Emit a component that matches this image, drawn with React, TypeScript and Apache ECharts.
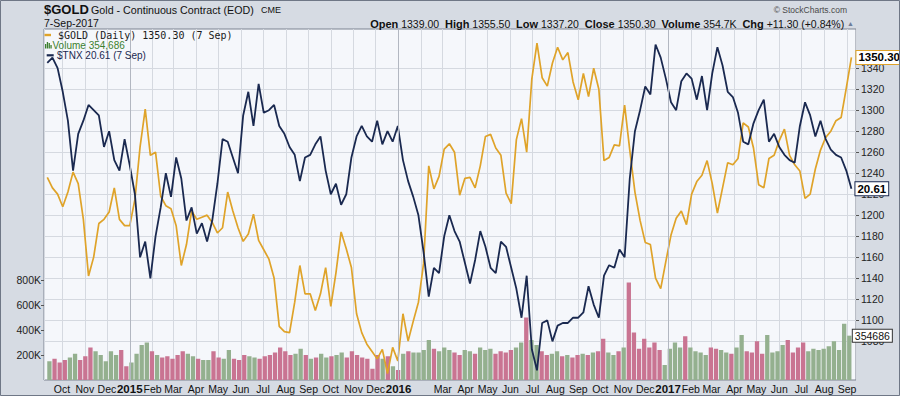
import React, { useEffect, useRef } from 'react';
import * as echarts from 'echarts';

// Weekly samples (Thursdays) of the daily chart
const DATES = [
  '2014-09-11','2014-09-18','2014-09-25','2014-10-02','2014-10-09','2014-10-16','2014-10-23','2014-10-30',
  '2014-11-06','2014-11-13','2014-11-20','2014-11-27','2014-12-04','2014-12-11','2014-12-18','2014-12-25',
  '2015-01-01','2015-01-08','2015-01-15','2015-01-22','2015-01-29','2015-02-05','2015-02-12','2015-02-19','2015-02-26',
  '2015-03-05','2015-03-12','2015-03-19','2015-03-26','2015-04-02','2015-04-09','2015-04-16','2015-04-23','2015-04-30',
  '2015-05-07','2015-05-14','2015-05-21','2015-05-28','2015-06-04','2015-06-11','2015-06-18','2015-06-25',
  '2015-07-02','2015-07-09','2015-07-16','2015-07-23','2015-07-30','2015-08-06','2015-08-13','2015-08-20','2015-08-27',
  '2015-09-03','2015-09-10','2015-09-17','2015-09-24','2015-10-01','2015-10-08','2015-10-15','2015-10-22','2015-10-29',
  '2015-11-05','2015-11-12','2015-11-19','2015-11-26','2015-12-03','2015-12-10','2015-12-17','2015-12-24','2015-12-31',
  '2016-01-07','2016-01-14','2016-01-21','2016-01-28','2016-02-04','2016-02-11','2016-02-18','2016-02-25',
  '2016-03-03','2016-03-10','2016-03-17','2016-03-24','2016-03-31','2016-04-07','2016-04-14','2016-04-21','2016-04-28',
  '2016-05-05','2016-05-12','2016-05-19','2016-05-26','2016-06-02','2016-06-09','2016-06-16','2016-06-23','2016-06-30',
  '2016-07-07','2016-07-14','2016-07-21','2016-07-28','2016-08-04','2016-08-11','2016-08-18','2016-08-25',
  '2016-09-01','2016-09-08','2016-09-15','2016-09-22','2016-09-29','2016-10-06','2016-10-13','2016-10-20','2016-10-27',
  '2016-11-03','2016-11-10','2016-11-17','2016-11-24','2016-12-01','2016-12-08','2016-12-15','2016-12-22','2016-12-29',
  '2017-01-05','2017-01-12','2017-01-19','2017-01-26','2017-02-02','2017-02-09','2017-02-16','2017-02-23',
  '2017-03-02','2017-03-09','2017-03-16','2017-03-23','2017-03-30','2017-04-06','2017-04-13','2017-04-20','2017-04-27',
  '2017-05-04','2017-05-11','2017-05-18','2017-05-25','2017-06-01','2017-06-08','2017-06-15','2017-06-22','2017-06-29',
  '2017-07-06','2017-07-13','2017-07-20','2017-07-27','2017-08-03','2017-08-10','2017-08-17','2017-08-24','2017-08-31',
  '2017-09-07'
];

const GOLD = [
  1236,1226,1220,1208,1222,1241,1230,1196,1142,1160,1192,1196,1203,1226,1196,1190,
  1190,1215,1265,1301,1257,1260,1218,1209,1206,1190,1152,1172,1204,1196,1198,1200,1193,1183,
  1188,1222,1204,1188,1175,1182,1201,1176,1167,1158,1140,1094,1089,1088,1117,1152,1125,
  1125,1109,1125,1150,1113,1145,1184,1168,1150,1106,1088,1077,1070,1063,1072,1049,1074,1061,
  1106,1080,1099,1117,1154,1247,1225,1237,1263,1268,1260,1219,1235,1236,1226,1247,1275,
  1277,1264,1257,1221,1211,1272,1292,1260,1330,1364,1331,1323,1345,1360,1348,1355,1327,
  1310,1335,1313,1340,1320,1252,1255,1267,1266,1305,1262,1222,1195,1174,1172,1140,1130,1156,
  1181,1197,1204,1191,1220,1232,1238,1252,1230,1202,1226,1250,1248,1254,1288,1284,1264,
  1229,1226,1254,1257,1271,1282,1257,1248,1242,1216,1220,1244,1262,1274,1280,1290,1293,1321,
  1350.3
];

const TNX = [
  25.4,25.6,25.2,24.3,23.2,21.3,22.7,23.2,23.8,23.6,23.4,22.2,22.8,21.7,21.3,22.5,
  21.5,20.4,18.0,18.6,17.2,18.8,19.9,21.2,20.3,21.8,21.0,19.4,19.9,18.9,19.3,18.6,19.4,20.8,
  22.5,22.4,21.8,21.2,23.4,24.3,23.0,24.6,23.5,23.6,23.8,23.0,22.7,22.2,21.9,20.9,21.8,
  21.9,22.3,22.6,21.3,20.4,20.8,20.0,20.4,21.8,22.6,23.0,22.6,22.4,23.2,22.3,22.8,22.4,23.0,
  21.7,20.9,20.3,19.6,18.2,16.5,17.6,17.4,18.8,19.6,19.0,18.6,17.8,17.0,17.9,19.0,18.4,
  17.6,17.4,18.6,18.4,17.6,16.8,15.7,17.3,14.5,13.7,15.5,15.6,14.8,15.4,15.5,15.5,15.7,
  15.7,15.9,16.9,16.2,15.7,17.3,17.7,17.6,18.3,18.0,21.0,22.8,23.6,24.5,24.2,26.1,25.6,24.8,
  23.9,23.6,24.7,25.0,24.8,24.0,24.9,23.6,25.0,26.0,25.3,24.3,24.1,23.5,22.4,22.3,23.1,
  23.6,24.0,22.4,22.7,22.2,21.9,21.7,21.6,23.0,23.9,23.4,22.6,23.2,22.5,22.1,21.9,21.8,21.3,
  20.61
];

// thousands of contracts
const VOLUME_K = [
  150,170,140,160,180,210,160,190,260,230,200,150,230,200,240,110,
  140,210,280,300,230,200,180,190,170,200,230,210,190,170,160,160,230,180,
  170,240,170,160,200,190,180,170,190,200,220,260,230,200,210,250,200,
  170,180,210,180,190,200,220,180,230,200,180,170,90,200,170,190,110,80,
  210,230,220,220,240,320,250,230,260,240,220,200,240,230,210,260,240,
  250,210,230,220,240,260,300,500,320,280,230,200,210,230,190,200,180,
  200,210,200,220,230,330,220,200,230,260,780,380,250,330,260,300,240,120,
  250,300,260,350,260,230,220,200,260,250,240,220,210,260,360,230,220,
  310,210,360,220,230,280,320,220,260,300,230,250,240,250,270,310,240,450,
  354.686
];

const GOLD_TICKS = [1060,1080,1100,1120,1140,1160,1180,1200,1220,1240,1260,1280,1300,1320,1340,1360];
const MONTHS = ['Jan','Feb','Mar','Apr','May','Jun','Jul','Aug','Sep','Oct','Nov','Dec'];
const SKIPPED_MONTH_LABELS = ['2016-1'];
const QUOTE_LABELS = ['Open','High','Low','Close','Volume','Chg'];
const QUOTE_VALUES = ['1339.00','1355.50','1337.20','1350.30','354.7K','+11.30 (+0.84%)'];

const GOLD_C = '#dfa329';
const TNX_C = '#1a2950';
const PINK = '#c97492';
const GREEN = '#94b08f';
const FONT = "'Liberation Sans', Arial, sans-serif";

export default function App() {
  const ref = useRef<HTMLDivElement>(null);
  useEffect(() => {
    document.body.style.margin = '0';
    const chart = echarts.init(ref.current!, null, { renderer: 'svg' });
    const last = DATES.length - 1;
    const xMin = new Date(2014, 8, 6, 13).getTime();
    const xMax = new Date(2017, 8, 13, 5).getTime();
    const yearStarts = [2015, 2016, 2017].map((y) => new Date(y, 0, 1).getTime());

    const hiddenX = (g: number) => ({ type: 'time', gridIndex: g, min: xMin, max: xMax, show: false });

    const quoteText =
      QUOTE_LABELS.map((l, i) => `{b|${l}} ${QUOTE_VALUES[i]}`).join('  ') + ' {a|▲}';

    const option: any = {
      animation: false,
      backgroundColor: '#d6dbe3',
      grid: [
        { left: 44, right: 44, top: 29, bottom: 16, show: true, backgroundColor: '#f5f7fb', borderColor: '#7d8391', borderWidth: 1, outerBoundsMode: 'none', containLabel: false },
        { left: 44, right: 44, top: 26.3, bottom: 13, show: false, outerBoundsMode: 'none', containLabel: false },
        { left: 44, right: 44, top: 280, bottom: 16, show: false, outerBoundsMode: 'none', containLabel: false },
      ],
      xAxis: [
        {
          type: 'time', gridIndex: 0, min: xMin, max: xMax, splitNumber: 28,
          axisLine: { show: false },
          axisTick: { show: false },
          axisLabel: {
            show: true, margin: 3, hideOverlap: false, showMinLabel: false, showMaxLabel: false,
            fontSize: 10.5, color: '#111', fontFamily: FONT,
            formatter: (value: number) => {
              const d = new Date(value);
              const m = d.getMonth();
              if (SKIPPED_MONTH_LABELS.indexOf(`${d.getFullYear()}-${m}`) >= 0) return '';
              return m === 0 ? `{y|${d.getFullYear()}}` : MONTHS[m];
            },
            rich: { y: { fontWeight: 'bold', fontSize: 11.5, color: '#111', fontFamily: FONT } },
          },
          splitLine: { show: true, lineStyle: { color: '#d5d9e0', width: 1 } },
        },
        hiddenX(1),
        hiddenX(2),
      ],
      yAxis: [
        { type: 'value', gridIndex: 0, min: 13.33, max: 26.69, show: false },
        {
          type: 'value', gridIndex: 1, position: 'right', min: 1040, max: 1380, interval: 20,
          axisLine: { show: false },
          axisTick: { show: true, length: 3, lineStyle: { color: '#555' }, customValues: GOLD_TICKS },
          axisLabel: {
            margin: 5, fontSize: 10.5, color: '#222', fontFamily: FONT, showMinLabel: false, showMaxLabel: false,
            customValues: GOLD_TICKS, formatter: (v: number) => String(v),
          },
          splitLine: { show: true, showMinLine: false, showMaxLine: false, lineStyle: { color: '#d5d9e0', width: 1 } },
        },
        {
          type: 'value', gridIndex: 2, position: 'left', min: 0, max: 800000, interval: 200000,
          axisLine: { show: false },
          axisTick: { show: true, length: 3, lineStyle: { color: '#555' } },
          axisLabel: {
            margin: 3, fontSize: 10.5, color: '#222', fontFamily: FONT, showMinLabel: false,
            formatter: (v: number) => (v === 0 ? '' : `${v / 1000}K`),
          },
          splitLine: { show: false },
        },
      ],
      series: [
        {
          type: 'line', xAxisIndex: 0, yAxisIndex: 0, data: [], z: 1, silent: true,
          markLine: {
            silent: true, symbol: ['none', 'none'], label: { show: false },
            lineStyle: { color: '#b2b7c1', width: 1, type: 'solid' },
            data: yearStarts.map((t) => ({ xAxis: t })),
          },
        },
        {
          type: 'bar', name: 'Volume', xAxisIndex: 2, yAxisIndex: 2, barWidth: 4.3, z: 2,
          data: DATES.map((d, i) => ({
            value: [d, Math.round(VOLUME_K[i] * 1000)],
            itemStyle: { color: i > 0 && GOLD[i] < GOLD[i - 1] ? PINK : GREEN },
          })),
          markPoint: {
            symbol: 'rect', symbolSize: 1, itemStyle: { color: 'rgba(0,0,0,0)' },
            label: {
              show: true, position: 'right', distance: 3,
              formatter: () => String(Math.round(VOLUME_K[last] * 1000)),
              backgroundColor: '#ffffff', borderColor: '#333', borderWidth: 1, padding: [1, 2, 0, 2],
              fontSize: 10.5, color: '#111', fontFamily: FONT,
            },
            data: [{ coord: [DATES[last], Math.round(VOLUME_K[last] * 1000)] }],
          },
        },
        {
          type: 'line', name: '$GOLD', xAxisIndex: 1, yAxisIndex: 1, z: 3,
          data: DATES.map((d, i) => [d, GOLD[i]]),
          showSymbol: false, symbol: 'none',
          lineStyle: { color: GOLD_C, width: 1.7 }, itemStyle: { color: GOLD_C },
          endLabel: {
            show: true, distance: 5, formatter: () => GOLD[last].toFixed(2),
            color: '#000', fontWeight: 'bold', fontSize: 11.5, fontFamily: FONT,
            backgroundColor: '#ffffff', borderColor: GOLD_C, borderWidth: 1, padding: [1, 2, 0, 2],
          },
        },
        {
          type: 'line', name: '$TNX', xAxisIndex: 0, yAxisIndex: 0, z: 4,
          data: DATES.map((d, i) => [d, TNX[i]]),
          showSymbol: false, symbol: 'none',
          lineStyle: { color: TNX_C, width: 1.8 }, itemStyle: { color: TNX_C },
          endLabel: {
            show: true, distance: 4, formatter: () => TNX[last].toFixed(2),
            color: '#000', fontWeight: 'bold', fontSize: 11.5, fontFamily: FONT,
            backgroundColor: '#ffffff', borderColor: TNX_C, borderWidth: 1, padding: [1, 2, 0, 2],
          },
        },
      ],
      graphic: [
        { type: 'rect', silent: true, z: 100, shape: { x: 0.5, y: 0.5, width: 899, height: 395 }, style: { fill: 'none', stroke: '#6f7786', lineWidth: 1 } },
        { type: 'text', silent: true, z: 100, style: { x: 44, y: 9, text: '$GOLD', font: `bold 13px ${FONT}`, fill: '#111', textVerticalAlign: 'middle', verticalAlign: 'middle' } },
        { type: 'text', silent: true, z: 100, style: { x: 91, y: 9.5, text: 'Gold - Continuous Contract (EOD)', font: `10.7px ${FONT}`, fill: '#111', textVerticalAlign: 'middle', verticalAlign: 'middle' } },
        { type: 'text', silent: true, z: 100, style: { x: 261, y: 9.8, text: 'CME', font: `9px ${FONT}`, fill: '#111', textVerticalAlign: 'middle', verticalAlign: 'middle' } },
        { type: 'text', silent: true, z: 100, style: { x: 44, y: 22.7, text: '7-Sep-2017', font: `10.5px ${FONT}`, fill: '#111', textVerticalAlign: 'middle', verticalAlign: 'middle' } },
        { type: 'text', silent: true, z: 100, style: { x: 847, y: 10, text: '© StockCharts.com', font: `8.5px ${FONT}`, fill: '#4a4a4a', textAlign: 'right', align: 'right', textVerticalAlign: 'middle', verticalAlign: 'middle' } },
        {
          type: 'text', silent: true, z: 100,
          style: {
            x: 854, y: 23.5, text: quoteText, font: `10.5px ${FONT}`, fill: '#111',
            textAlign: 'right', align: 'right', textVerticalAlign: 'middle', verticalAlign: 'middle',
            rich: {
              b: { fontWeight: 'bold', fontSize: 11, fontFamily: FONT, fill: '#111', color: '#111' },
              a: { fontSize: 7, fontFamily: FONT, fill: '#6d7c99', color: '#6d7c99' },
            },
          },
        },
        // legend
        { type: 'rect', silent: true, z: 100, shape: { x: 44.5, y: 33.8, width: 6.5, height: 2.4 }, style: { fill: GOLD_C } },
        { type: 'text', silent: true, z: 100, style: { x: 58, y: 35.5, text: '$GOLD (Daily) 1350.30 (7 Sep)', font: "10px 'DejaVu Sans Mono', monospace", fill: '#1a1a1a', textVerticalAlign: 'middle', verticalAlign: 'middle' } },
        { type: 'rect', silent: true, z: 100, shape: { x: 45, y: 44, width: 1.3, height: 4.5 }, style: { fill: '#3b7f2e' } },
        { type: 'rect', silent: true, z: 100, shape: { x: 46.8, y: 42, width: 1.3, height: 6.5 }, style: { fill: '#3b7f2e' } },
        { type: 'rect', silent: true, z: 100, shape: { x: 48.6, y: 43, width: 1.3, height: 5.5 }, style: { fill: '#3b7f2e' } },
        { type: 'rect', silent: true, z: 100, shape: { x: 50.4, y: 45, width: 1.3, height: 3.5 }, style: { fill: '#3b7f2e' } },
        { type: 'text', silent: true, z: 100, style: { x: 52.5, y: 45.5, text: 'Volume 354,686', font: `10px ${FONT}`, fill: '#3b7f2e', textVerticalAlign: 'middle', verticalAlign: 'middle' } },
        { type: 'rect', silent: true, z: 100, shape: { x: 46.7, y: 54.2, width: 7, height: 2.2 }, style: { fill: TNX_C } },
        { type: 'text', silent: true, z: 100, style: { x: 57, y: 55.5, text: '$TNX 20.61 (7 Sep)', font: `10px ${FONT}`, fill: TNX_C, textVerticalAlign: 'middle', verticalAlign: 'middle' } },
      ],
    };
    chart.setOption(option);
    return () => chart.dispose();
  }, []);
  return <div ref={ref} style={{ width: 900, height: 396 }} />;
}
